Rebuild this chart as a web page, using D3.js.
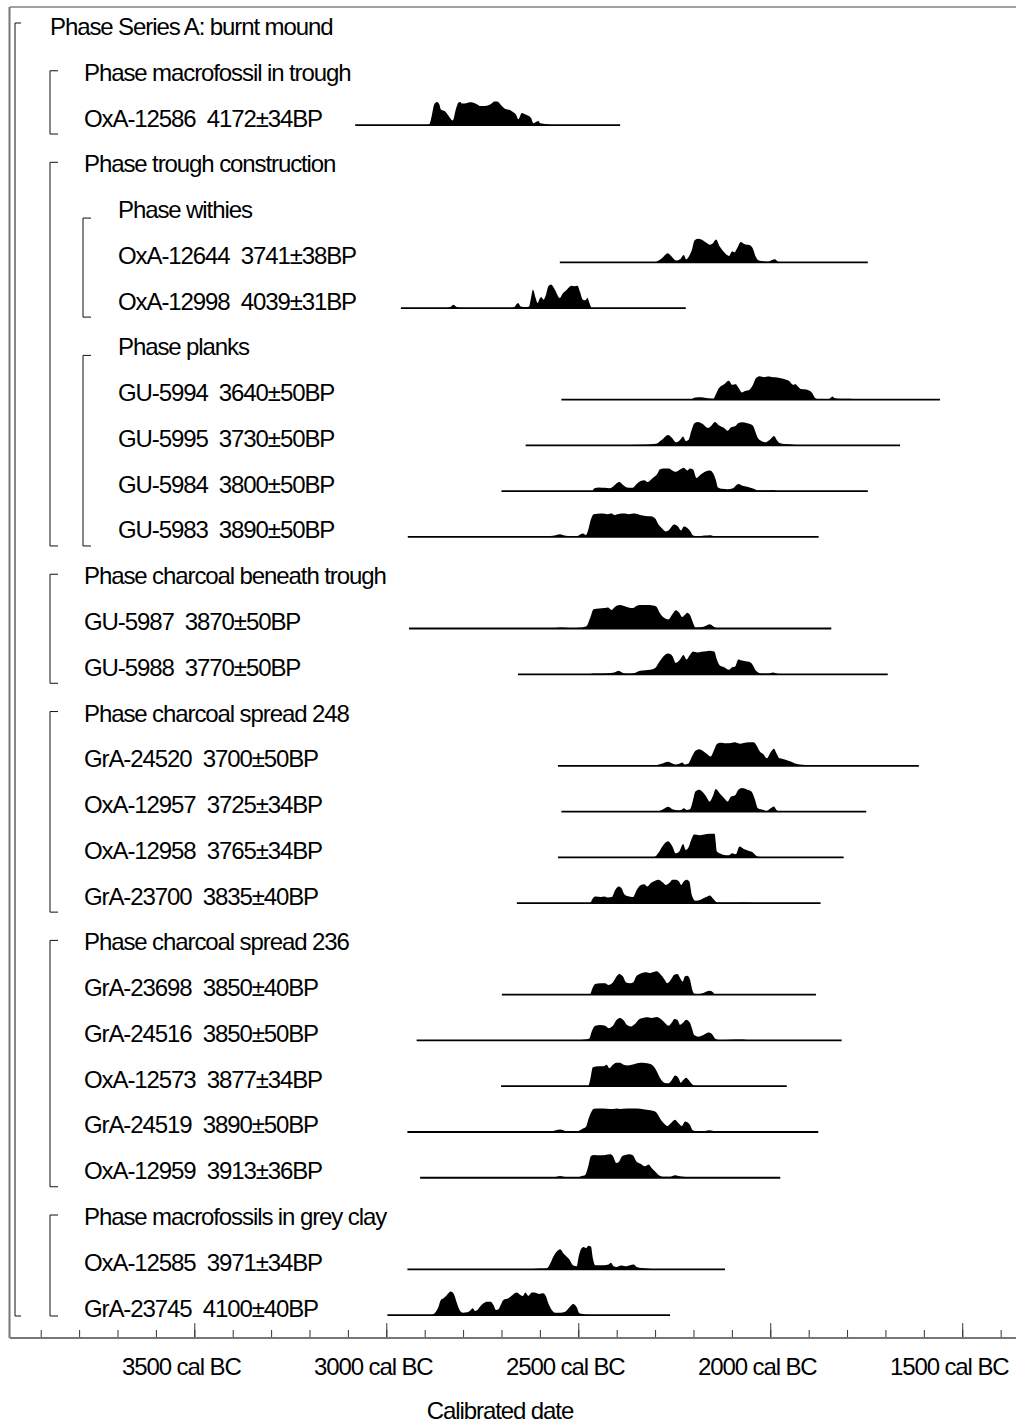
<!DOCTYPE html>
<html>
<head>
<meta charset="utf-8">
<script src="https://cdn.jsdelivr.net/npm/d3@7"></script>
<style>
  body { margin: 0; background: #fff; }
  svg { display: block; }
  text { font-family: "Liberation Sans", Arial, sans-serif; font-size: 24px; letter-spacing: -1.1px; fill: #000; white-space: pre; }
</style>
</head>
<body>
<svg id="chart" width="1016" height="1423"></svg>
<script>
// ---- Model outline: phases and dated samples, in plotting order ----
const outline = [
  { label: "Phase Series A: burnt mound", indent: 0, group: true },
  { label: "Phase macrofossil in trough", indent: 1, group: true },
  { label: "OxA-12586  4172±34BP", indent: 1, sample: "OxA-12586" },
  { label: "Phase trough construction", indent: 1, group: true },
  { label: "Phase withies", indent: 2, group: true },
  { label: "OxA-12644  3741±38BP", indent: 2, sample: "OxA-12644" },
  { label: "OxA-12998  4039±31BP", indent: 2, sample: "OxA-12998" },
  { label: "Phase planks", indent: 2, group: true },
  { label: "GU-5994  3640±50BP", indent: 2, sample: "GU-5994" },
  { label: "GU-5995  3730±50BP", indent: 2, sample: "GU-5995" },
  { label: "GU-5984  3800±50BP", indent: 2, sample: "GU-5984" },
  { label: "GU-5983  3890±50BP", indent: 2, sample: "GU-5983" },
  { label: "Phase charcoal beneath trough", indent: 1, group: true },
  { label: "GU-5987  3870±50BP", indent: 1, sample: "GU-5987" },
  { label: "GU-5988  3770±50BP", indent: 1, sample: "GU-5988" },
  { label: "Phase charcoal spread 248", indent: 1, group: true },
  { label: "GrA-24520  3700±50BP", indent: 1, sample: "GrA-24520" },
  { label: "OxA-12957  3725±34BP", indent: 1, sample: "OxA-12957" },
  { label: "OxA-12958  3765±34BP", indent: 1, sample: "OxA-12958" },
  { label: "GrA-23700  3835±40BP", indent: 1, sample: "GrA-23700" },
  { label: "Phase charcoal spread 236", indent: 1, group: true },
  { label: "GrA-23698  3850±40BP", indent: 1, sample: "GrA-23698" },
  { label: "GrA-24516  3850±50BP", indent: 1, sample: "GrA-24516" },
  { label: "OxA-12573  3877±34BP", indent: 1, sample: "OxA-12573" },
  { label: "GrA-24519  3890±50BP", indent: 1, sample: "GrA-24519" },
  { label: "OxA-12959  3913±36BP", indent: 1, sample: "OxA-12959" },
  { label: "Phase macrofossils in grey clay", indent: 1, group: true },
  { label: "OxA-12585  3971±34BP", indent: 1, sample: "OxA-12585" },
  { label: "GrA-23745  4100±40BP", indent: 1, sample: "GrA-23745" }
];

// ---- Calibrated probability distributions: [year (negative = BC), relative probability] ----
const oxa12586 = [[-2895,0],[-2888,0.7],[-2881,10],[-2875,20],[-2868,22.3],[-2862,20],[-2858,15],[-2847,13.3],[-2838,9],[-2827,4.3],[-2819,15],[-2812,21.7],[-2808,22.3],[-2802,20.7],[-2792,21],[-2783,22],[-2775,21.7],[-2764,20],[-2756,18.3],[-2744,18.3],[-2734,19],[-2725,21],[-2719,22.7],[-2711,22.7],[-2705,21],[-2699,18.3],[-2691,15.7],[-2677,14.3],[-2669,12.3],[-2662,10],[-2656,5.7],[-2647,11.7],[-2638,10.3],[-2630,9],[-2623,6.7],[-2617,1.7],[-2608,3.3],[-2604,4],[-2599,1.7],[-2591,1.3],[-2582,0.7],[-2573,0]];
const oxa12644 = [[-2305,0],[-2297,0.7],[-2282,4],[-2267,9],[-2257,5.7],[-2245,1.7],[-2235,3],[-2225,7.3],[-2219,3],[-2212,5.7],[-2204,12.3],[-2197,21.7],[-2187,23],[-2172,20.7],[-2157,17.3],[-2149,19],[-2141,22.3],[-2132,15.7],[-2122,10.7],[-2107,6.3],[-2100,10.7],[-2093,10],[-2086,14],[-2077,20],[-2068,18],[-2053,16.7],[-2046,14],[-2038,5.7],[-2030,1.7],[-2018,1],[-2006,0.7],[-1995,2.3],[-1988,3],[-1980,0.7],[-1968,0]];
const oxa12998 = [[-2840,0],[-2833,1],[-2825,3.3],[-2817,1],[-2805,0],[-2675,0],[-2665,1.7],[-2657,5],[-2650,1.7],[-2637,1],[-2628,1.7],[-2624,8.3],[-2618,18.3],[-2611,10],[-2606,5],[-2601,9],[-2596,11],[-2591,8.3],[-2584,13.3],[-2578,21.7],[-2571,23.3],[-2561,18.3],[-2548,10],[-2541,14.3],[-2534,16.7],[-2526,20],[-2518,22.3],[-2510,21.7],[-2502,22.3],[-2496,16.7],[-2488,8.3],[-2482,7.7],[-2476,10],[-2471,5],[-2466,0]];
const gu5994 = [[-2215,0],[-2204,0.7],[-2195,2],[-2181,2.3],[-2167,1.7],[-2148,1],[-2142,5],[-2134,11],[-2120,15],[-2108,18.3],[-2099,14.3],[-2090,15],[-2083,11.7],[-2074,7],[-2065,8.3],[-2055,9.3],[-2046,13.7],[-2037,21],[-2027,22.7],[-2015,21.7],[-2006,22.3],[-1997,22],[-1987,21.7],[-1976,21],[-1962,19.7],[-1950,17.7],[-1941,14.3],[-1934,15],[-1928,12.7],[-1920,10.3],[-1911,10],[-1902,9.3],[-1892,7],[-1883,1.7],[-1874,0.3],[-1848,0.3],[-1838,3],[-1832,1.3],[-1818,1],[-1799,1],[-1785,0.7],[-1772,0]];
const gu5995 = [[-2420,0],[-2395,0.3],[-2339,0.7],[-2297,1.7],[-2283,5.3],[-2266,10.3],[-2255,7],[-2246,3],[-2235,5.3],[-2227,8.7],[-2220,4.3],[-2213,5.3],[-2206,13.7],[-2197,22],[-2188,23],[-2176,21],[-2162,17],[-2155,18.7],[-2144,23],[-2134,19.7],[-2120,17],[-2111,14.3],[-2102,17.7],[-2092,18.7],[-2083,22],[-2074,22.7],[-2060,21.7],[-2046,19.7],[-2039,13.7],[-2032,7],[-2023,4.3],[-2013,3],[-2002,5.3],[-1990,9.3],[-1983,5.3],[-1976,2.3],[-1962,1.3],[-1939,0.7],[-1920,0]];
const gu5984 = [[-2470,0],[-2464,0.3],[-2458,3],[-2446,3.7],[-2432,3.3],[-2418,3],[-2409,4.7],[-2399,8],[-2393,9],[-2384,6.3],[-2374,3.7],[-2358,3.3],[-2348,7],[-2339,9.7],[-2328,10.7],[-2320,9],[-2306,13],[-2294,17],[-2288,21.3],[-2278,22.3],[-2264,22.3],[-2255,20.3],[-2246,19],[-2235,21.3],[-2225,23],[-2216,20.3],[-2209,22.3],[-2201,21.3],[-2192,13],[-2181,16.3],[-2170,19],[-2157,20.3],[-2148,17],[-2142,11.3],[-2136,3.7],[-2125,2.3],[-2111,2],[-2097,3],[-2083,7],[-2074,5.7],[-2060,4.3],[-2043,2.3],[-2032,0.7],[-2013,0.7],[-1995,1],[-1981,0.3],[-1967,0]];
const gu5983 = [[-2590,0],[-2581,0.3],[-2562,1.3],[-2548,2.7],[-2536,1.3],[-2520,0.7],[-2506,0.3],[-2497,2],[-2488,3.3],[-2480,2],[-2474,7],[-2467,17],[-2460,22],[-2441,22.7],[-2423,22],[-2413,22.7],[-2406,21.3],[-2395,22.3],[-2381,22.7],[-2369,22],[-2353,22.7],[-2339,21.3],[-2325,20.3],[-2311,20],[-2300,18],[-2291,12],[-2281,8],[-2272,5.3],[-2263,7],[-2251,12],[-2241,10.3],[-2232,6.3],[-2225,10],[-2216,8.7],[-2209,6],[-2201,1.3],[-2190,0.7],[-2171,1.3],[-2158,1.7],[-2144,0.7],[-2125,0]];
const gu5987 = [[-2570,0],[-2562,0.3],[-2548,1],[-2534,0.7],[-2516,0.3],[-2497,0.7],[-2483,1.7],[-2477,3],[-2469,10.3],[-2460,18.7],[-2446,19.3],[-2432,19.7],[-2423,20.3],[-2413,18],[-2404,21],[-2393,22.7],[-2381,21.7],[-2369,20.3],[-2358,19.7],[-2346,22.3],[-2334,22.7],[-2320,22.7],[-2306,22.3],[-2297,21.3],[-2288,15.3],[-2279,11],[-2265,8.7],[-2255,13.7],[-2246,17.7],[-2237,15.3],[-2229,11],[-2223,13],[-2216,15.3],[-2209,13],[-2201,5.3],[-2195,1],[-2181,1.3],[-2167,2.7],[-2158,4],[-2148,2],[-2139,0.3],[-2120,0]];
const gu5988 = [[-2470,0],[-2460,0.7],[-2423,1],[-2406,1.7],[-2395,3.3],[-2384,1.3],[-2369,0.7],[-2353,1.3],[-2339,3.3],[-2325,4],[-2313,4.3],[-2300,6],[-2291,11],[-2281,16],[-2266,20],[-2255,17.7],[-2246,11],[-2235,14.3],[-2226,18.7],[-2218,14.3],[-2211,17.7],[-2201,22],[-2190,21],[-2179,21.7],[-2167,22.3],[-2158,22.7],[-2146,22],[-2139,14.3],[-2132,8.7],[-2120,6.7],[-2108,4.3],[-2099,6.7],[-2092,7.3],[-2083,14.3],[-2074,13.3],[-2065,12.7],[-2055,12],[-2046,9.3],[-2037,3.3],[-2023,0.7],[-2004,0.7],[-1993,1.7],[-1986,1],[-1976,0.3],[-1958,0]];
const gra24520 = [[-2310,0],[-2302,0.3],[-2283,2],[-2266,4],[-2255,2.3],[-2246,1.3],[-2237,2],[-2229,3.3],[-2223,1.3],[-2213,2.3],[-2204,9],[-2195,14.7],[-2185,16.3],[-2176,14.7],[-2164,11.3],[-2155,9],[-2148,14],[-2139,21.3],[-2130,22.7],[-2116,22],[-2102,22.3],[-2092,23],[-2080,21.7],[-2069,22.3],[-2055,23],[-2043,23],[-2037,20.7],[-2027,14],[-2018,11.3],[-2009,7.3],[-1999,13.3],[-1990,16.7],[-1984,12.3],[-1976,7.3],[-1967,6.7],[-1953,5],[-1941,3.3],[-1930,1.7],[-1916,1],[-1902,0.7],[-1883,0.3],[-1865,0]];
const oxa12957 = [[-2300,0],[-2292,0.3],[-2279,2.3],[-2266,4.7],[-2255,2.3],[-2241,1.3],[-2232,1.7],[-2225,3.3],[-2218,1.7],[-2209,2.3],[-2201,11.7],[-2195,20],[-2185,21.7],[-2176,19.3],[-2167,15],[-2158,10],[-2148,16.7],[-2142,22.3],[-2132,18.3],[-2120,13.3],[-2111,10],[-2102,15],[-2092,16],[-2083,21.7],[-2074,23.3],[-2060,21.7],[-2049,20],[-2041,13.3],[-2032,3.3],[-2018,1.7],[-2009,0.7],[-1999,3.3],[-1990,5],[-1984,1.7],[-1976,0.3],[-1958,0]];
const oxa12958 = [[-2310,0],[-2302,0.3],[-2292,4],[-2281,10.7],[-2266,15.7],[-2255,10.7],[-2246,4],[-2237,5.7],[-2227,13],[-2220,7.3],[-2213,9.7],[-2204,19],[-2198,22.3],[-2185,21.7],[-2172,22.3],[-2158,23],[-2145,23],[-2139,5.7],[-2130,3.7],[-2120,2.3],[-2108,2],[-2099,4],[-2090,3],[-2080,10.7],[-2069,8.3],[-2055,6.3],[-2046,5],[-2039,2.3],[-2032,0.7],[-2013,0.3],[-1995,0]];
const gra23700 = [[-2475,0],[-2469,0.3],[-2462,4.7],[-2455,6.3],[-2441,5.7],[-2432,6.3],[-2423,5.3],[-2413,5.7],[-2404,12.3],[-2395,15.7],[-2387,14],[-2381,9],[-2372,6.7],[-2358,5.7],[-2348,12.3],[-2339,16.7],[-2328,18],[-2320,15.7],[-2311,19],[-2300,21.3],[-2291,22.3],[-2281,20],[-2272,17.3],[-2263,19],[-2255,22.3],[-2246,22.3],[-2238,20.7],[-2232,17.3],[-2225,20.7],[-2218,22.3],[-2211,20.7],[-2204,7.3],[-2195,2.3],[-2181,3.3],[-2167,5.7],[-2158,7.3],[-2148,4],[-2139,0.7],[-2106,0.3],[-2069,0.7],[-2051,0.3],[-2032,0]];
const gra23698 = [[-2475,0],[-2469,0.3],[-2465,4.3],[-2456,10.3],[-2443,11],[-2430,11],[-2421,9.3],[-2410,11.7],[-2400,17.7],[-2393,20],[-2384,17.7],[-2375,11.7],[-2365,11],[-2356,12.3],[-2349,17.7],[-2339,20.3],[-2326,21.7],[-2315,21],[-2304,22],[-2296,22.7],[-2285,19.3],[-2276,15],[-2268,11],[-2259,14.3],[-2250,19.3],[-2242,20],[-2233,15],[-2228,12.7],[-2222,17.7],[-2216,18.3],[-2209,14.3],[-2204,6],[-2198,1],[-2187,0.7],[-2174,1.7],[-2158,3.7],[-2150,2.7],[-2144,0.3],[-2122,0]];
const gra24516 = [[-2600,0],[-2556,0.3],[-2504,0.3],[-2482,1],[-2471,2],[-2465,8.7],[-2456,14.3],[-2443,15],[-2430,14.3],[-2421,12],[-2410,14.3],[-2400,20.3],[-2391,22],[-2382,19.7],[-2374,15.3],[-2363,13.7],[-2352,16.3],[-2343,20.3],[-2332,22],[-2322,22.7],[-2309,22],[-2296,23],[-2285,21],[-2276,17.7],[-2265,14.3],[-2256,17.7],[-2250,21],[-2242,20.3],[-2235,15.3],[-2228,17],[-2219,20.3],[-2210,17.7],[-2204,12],[-2198,5.3],[-2187,3.7],[-2174,5.3],[-2161,7.7],[-2152,6.3],[-2144,2],[-2131,0.3],[-2079,1],[-2066,0.7],[-2052,0.3],[-2035,0]];
const oxa12573 = [[-2480,0],[-2474,0.3],[-2469,6],[-2462,17.7],[-2447,18.7],[-2434,18.7],[-2426,20],[-2419,16.7],[-2410,20],[-2401,22],[-2391,22],[-2382,20],[-2372,19.3],[-2361,20],[-2349,21.3],[-2337,22],[-2326,21.7],[-2315,21],[-2304,18.7],[-2296,14.3],[-2287,7.7],[-2276,3.3],[-2265,2.7],[-2256,6],[-2248,10],[-2239,7.7],[-2233,3.3],[-2226,6],[-2219,8],[-2213,6],[-2204,2],[-2196,0.3],[-2157,0.3],[-2122,0]];
const gra24519 = [[-2600,0],[-2582,0.3],[-2565,1],[-2547,2.3],[-2534,1],[-2517,0.3],[-2500,1],[-2488,3.3],[-2480,5],[-2474,11.7],[-2467,18.3],[-2459,22],[-2443,22.3],[-2426,22],[-2408,21.7],[-2400,22.3],[-2391,21.7],[-2374,22.3],[-2356,22.3],[-2339,22],[-2322,21],[-2304,20],[-2296,18.3],[-2285,11.7],[-2276,7.7],[-2268,5.7],[-2259,8.3],[-2248,11.7],[-2239,8.3],[-2230,5.7],[-2222,10],[-2215,9],[-2209,6.7],[-2202,1.7],[-2191,0.7],[-2170,1],[-2157,1.7],[-2144,0.7],[-2122,0]];
const oxa12959 = [[-2580,0],[-2565,0.3],[-2547,1.7],[-2534,0.7],[-2504,0.3],[-2491,1.7],[-2482,2.7],[-2474,11],[-2467,21],[-2459,22],[-2443,21.7],[-2430,22],[-2417,22.7],[-2410,21],[-2401,14.3],[-2395,15],[-2387,20.3],[-2378,22],[-2367,22.7],[-2358,21.7],[-2349,16],[-2339,13.7],[-2326,11],[-2317,12.7],[-2309,9.3],[-2300,6],[-2291,2.7],[-2278,1],[-2261,1],[-2248,2.3],[-2239,1.7],[-2226,1],[-2213,0.7],[-2200,0]];
const oxa12585 = [[-2630,0],[-2621,0.3],[-2599,0.7],[-2582,1],[-2573,5.7],[-2565,12.3],[-2556,17.3],[-2547,19.7],[-2539,15.7],[-2530,12.3],[-2523,9.7],[-2514,4],[-2504,3],[-2499,12.3],[-2493,19.7],[-2486,21.7],[-2480,20.7],[-2473,23],[-2467,22.3],[-2462,10.7],[-2456,4],[-2447,4],[-2434,4],[-2421,4.7],[-2415,6.3],[-2408,3],[-2400,2.3],[-2389,3.7],[-2378,3],[-2365,4],[-2356,4.7],[-2348,2.3],[-2335,1.3],[-2322,0.7],[-2296,0]];
const gra23745 = [[-2890,0],[-2881,0.3],[-2873,2.3],[-2864,8.3],[-2858,15],[-2851,16.7],[-2842,20],[-2832,23.3],[-2823,20],[-2816,11.7],[-2809,5],[-2801,2.3],[-2789,2.7],[-2782,4.3],[-2775,6.7],[-2769,4],[-2763,5],[-2756,8.3],[-2747,11.7],[-2737,13.3],[-2728,13.3],[-2721,10],[-2714,5],[-2708,5.7],[-2702,10],[-2695,15],[-2682,16.7],[-2671,20],[-2660,22.3],[-2651,20],[-2644,19],[-2638,22.3],[-2630,19],[-2621,22.3],[-2615,22.3],[-2608,21.7],[-2601,21],[-2591,21.7],[-2584,18.3],[-2578,11.7],[-2569,5],[-2560,2.3],[-2547,2.3],[-2534,3.3],[-2523,7.7],[-2513,11],[-2504,7.7],[-2497,1.7],[-2488,1],[-2478,0.3],[-2460,0]];

// Date range over which each calibrated curve is evaluated (start, end), years BC negative
const curveRanges = {
  "OxA-12586": [-3081, -2391], "OxA-12644": [-2548, -1746], "OxA-12998": [-2962, -2220],
  "GU-5994": [-2544, -1558], "GU-5995": [-2637, -1662], "GU-5984": [-2700, -1746], "GU-5983": [-2944, -1874],
  "GU-5987": [-2941, -1841], "GU-5988": [-2657, -1694],
  "GrA-24520": [-2553, -1613], "OxA-12957": [-2544, -1750], "OxA-12958": [-2553, -1809], "GrA-23700": [-2660, -1869],
  "GrA-23698": [-2699, -1881], "GrA-24516": [-2921, -1814], "OxA-12573": [-2701, -1957], "GrA-24519": [-2945, -1875], "OxA-12959": [-2912, -1974],
  "OxA-12585": [-2945, -2118], "GrA-23745": [-2997, -2261]
};
const curves = {
  "OxA-12586": oxa12586, "OxA-12644": oxa12644, "OxA-12998": oxa12998,
  "GU-5994": gu5994, "GU-5995": gu5995, "GU-5984": gu5984, "GU-5983": gu5983,
  "GU-5987": gu5987, "GU-5988": gu5988,
  "GrA-24520": gra24520, "OxA-12957": oxa12957, "OxA-12958": oxa12958, "GrA-23700": gra23700,
  "GrA-23698": gra23698, "GrA-24516": gra24516, "OxA-12573": oxa12573, "GrA-24519": gra24519, "OxA-12959": oxa12959,
  "OxA-12585": oxa12585, "GrA-23745": gra23745
};

// Axis ticks and labels
const minorTicks = d3.range(-3900, -1399, 100);
const majorTicks = [-3500, -3000, -2500, -2000, -1500];
const majorLabels = ["3500 cal BC", "3000 cal BC", "2500 cal BC", "2000 cal BC", "1500 cal BC"];
const axisTitle = "Calibrated date";

// ---- Layout ----
const frame = { left: 10, top: 7, right: 1016, bottom: 1338 };
const svg = d3.select("#chart");

const x = d3.scaleLinear().domain([-3980, -1360]).range([frame.left, frame.right]);
const rowY = d3.scaleLinear().domain([0, 1]).range([26.5, 72.27]);   // text centre of each row
const curveHeight = 23.5;
const textX = [50, 84, 118];
const bracketX = [15, 50, 83];
const bracketTick = [6, 8, 8];
const bracketTop = [-3.5, -1.5, 8.5];
const bracketMaxBottom = 1316;

// Frame
svg.append("line").attr("x1", frame.left).attr("x2", frame.right).attr("y1", frame.top).attr("y2", frame.top)
  .attr("stroke", "#444").attr("stroke-width", 1.2);
svg.append("line").attr("x1", frame.left - 0.5).attr("x2", frame.left - 0.5).attr("y1", frame.top).attr("y2", frame.bottom)
  .attr("stroke", "#777").attr("stroke-width", 2);

// Brackets for each phase: from its header row to the last row it contains
const brackets = svg.append("g").attr("stroke", "#111").attr("stroke-width", 1).attr("fill", "none");
outline.forEach((row, i) => {
  if (!row.group) return;
  let end = i;
  for (let j = i + 1; j < outline.length; j++) {
    const r = outline[j];
    if (r.indent < row.indent || (r.indent === row.indent && r.group)) break;
    end = j;
  }
  const k = row.indent;
  const top = rowY(i) + bracketTop[k];
  const bottom = Math.min(rowY(end) + 16, bracketMaxBottom);
  const bx = bracketX[k];
  brackets.append("path")
    .attr("d", `M${bx + bracketTick[k]},${top}H${bx}V${bottom}H${bx + bracketTick[k]}`);
});

// Row labels
svg.append("g").selectAll("text").data(outline).join("text")
  .attr("x", d => textX[d.indent])
  .attr("y", (d, i) => rowY(i) + 8.5)
  .text(d => d.label);

// Distributions
const area = d3.area().curve(d3.curveMonotoneX);
const plots = svg.append("g");
outline.forEach((row, i) => {
  if (!row.sample) return;
  const data = curves[row.sample];
  const base = rowY(i) + 7;
  const y = d3.scaleLinear().domain([0, d3.max(data, d => d[1])]).range([base, base - curveHeight]);
  const rng = curveRanges[row.sample];
  plots.append("line")
    .attr("x1", x(rng[0])).attr("x2", x(rng[1]))
    .attr("y1", base).attr("y2", base)
    .attr("stroke", "#000").attr("stroke-width", 1.8);
  plots.append("path")
    .datum(data)
    .attr("fill", "#000")
    .attr("d", area.x(d => x(d[0])).y0(base).y1(d => y(d[1])));
});

// Axis: minor and major ticks pointing up into the plot
const axisG = svg.append("g").attr("transform", `translate(0,${frame.bottom})`);
axisG.append("g").call(d3.axisTop(x).tickValues(minorTicks).tickSize(8).tickFormat(""))
  .call(g => g.select(".domain").remove())
  .call(g => g.selectAll("line").attr("stroke", "#333"));
axisG.append("g").call(d3.axisTop(x).tickValues(majorTicks).tickSize(15).tickFormat(""))
  .call(g => g.select(".domain").remove())
  .call(g => g.selectAll("line").attr("stroke", "#333"));
svg.append("line").attr("x1", frame.left).attr("x2", frame.right).attr("y1", frame.bottom).attr("y2", frame.bottom)
  .attr("stroke", "#777").attr("stroke-width", 2);

svg.append("g").selectAll("text").data(majorTicks).join("text")
  .attr("x", d => x(d) - 13)
  .attr("y", frame.bottom + 37)
  .attr("text-anchor", "middle")
  .text((d, i) => majorLabels[i]);

svg.append("text")
  .attr("x", 500).attr("y", frame.bottom + 81)
  .attr("text-anchor", "middle")
  .text(axisTitle);
</script>
</body>
</html>
